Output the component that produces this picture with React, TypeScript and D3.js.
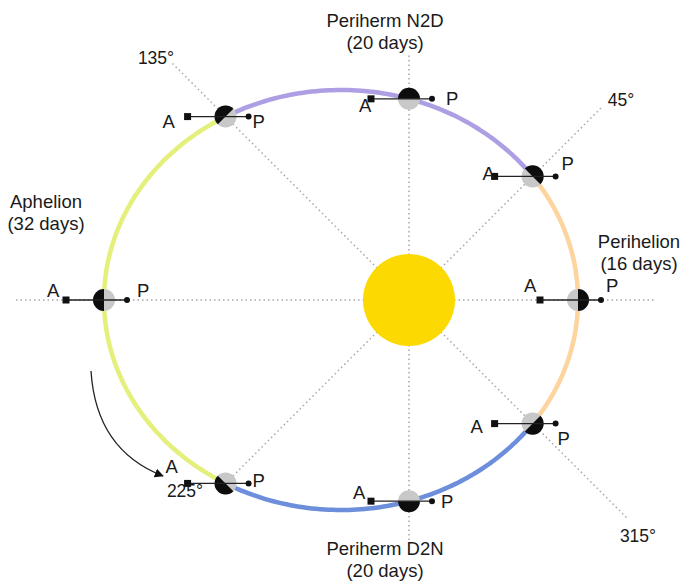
import * as d3 from 'd3'
import { type ReactElement } from 'react'

// positions on the orbit, measured as the angle seen from the sun
const planetAngles = [0, 45, 90, 135, 180, 225, 270, 315]

// orbit arcs between the marked angles
const arcStarts = [315, 45, 135, 225]
const arcEnds = [405, 135, 225, 315]
const arcColors = ['#fdd39e', '#ae9fe4', '#e4ef7c', '#6d8edb']

const angleTickLabels = ['45°', '135°', '225°', '315°']
const phaseNames = ['Perihelion', 'Periherm N2D', 'Aphelion', 'Periherm D2N']
const phaseDays = [16, 20, 32, 20]

const width = 681
const height = 581
const sun = { x: 409, y: 300, r: 46 }
const orbit = { cx: 341, cy: 300, rx: 237, ry: 210 }
const font = '"Liberation Sans", Arial, sans-serif'

// distance from the sun to the orbit along a ray at angle deg
function rayToOrbit(deg: number): number {
  const a = (deg * Math.PI) / 180
  const c = Math.cos(a)
  const s = -Math.sin(a)
  const dx0 = sun.x - orbit.cx
  const dy0 = sun.y - orbit.cy
  const A = (c * c) / orbit.rx ** 2 + (s * s) / orbit.ry ** 2
  const B = 2 * ((dx0 * c) / orbit.rx ** 2 + (dy0 * s) / orbit.ry ** 2)
  const C = (dx0 * dx0) / orbit.rx ** 2 + (dy0 * dy0) / orbit.ry ** 2 - 1
  return (-B + Math.sqrt(B * B - 4 * A * C)) / (2 * A)
}

function polar(deg: number, dist: number): [number, number] {
  const a = (deg * Math.PI) / 180
  return [sun.x + dist * Math.cos(a), sun.y - dist * Math.sin(a)]
}

function orbitPoint(deg: number): [number, number] {
  return polar(deg, rayToOrbit(deg))
}

// how far each dotted guide runs past the sun
const guideEnds: Record<number, number> = {
  0: 246, 45: 273, 90: 245, 135: 337, 180: 394, 225: 256, 270: 240, 315: 308,
}

// A / P label offsets from each planet centre
const apOffsets: Record<number, [number, number, number, number]> = {
  0: [-54, -8, 28, -8],
  45: [-50, 4, 29, -6],
  90: [-50, 13, 37, 6],
  135: [-63, 11, 27, 11],
  180: [-57, -3, 33, -3],
  225: [-60, -10, 27, 4],
  270: [-56, -2, 32, 7],
  315: [-62, 9, 25, 21],
}

const tickLabelPos: [number, number][] = [
  [621, 106],
  [156, 64],
  [185, 497],
  [638, 542],
]

const phaseLabelPos: [number, number][] = [
  [639, 248],
  [385, 27],
  [46, 208],
  [385, 555],
]

const orbitLine = d3
  .line<[number, number]>()
  .x((d) => d[0])
  .y((d) => d[1])
  .curve(d3.curveCatmullRom)

const halfArc = d3.arc<unknown>().innerRadius(0).outerRadius(11)

function Planet({ deg }: { deg: number }): ReactElement {
  const [x, y] = orbitPoint(deg)
  const away = Math.PI / 2 - (deg * Math.PI) / 180
  const off = apOffsets[deg]
  return (
    <g>
      <g transform={`translate(${x},${y})`}>
        <circle r={11} fill="#c8c8c8" />
        <path
          d={halfArc({ startAngle: away - Math.PI / 2, endAngle: away + Math.PI / 2 } as never) ?? ''}
          fill="#0d0d0d"
        />
        <line x1={-38} x2={23} y1={0} y2={0} stroke="#222" strokeWidth={1.4} />
        <rect x={-41.5} y={-3.5} width={7} height={7} fill="#111" />
        <circle cx={23} cy={0} r={3} fill="#111" />
      </g>
      <text x={x + off[0]} y={y + off[1]} fontFamily={font} fontSize={18.5} fill="#1a1a1a">
        A
      </text>
      <text x={x + off[2]} y={y + off[3]} fontFamily={font} fontSize={18.5} fill="#1a1a1a">
        P
      </text>
    </g>
  )
}

export default function App(): ReactElement {
  const arcs = arcStarts.map((start, i) => {
    const pts = d3.range(start, arcEnds[i] + 0.5, 1).map((deg) => orbitPoint(deg))
    return { d: orbitLine(pts) ?? '', color: arcColors[i] }
  })

  return (
    <svg
      width={width}
      height={height}
      style={{ position: 'absolute', left: 0, top: 0, background: '#fff' }}
    >
      <defs>
        <marker id="head" viewBox="0 0 10 10" refX={9} refY={5} markerWidth={7} markerHeight={7} orient="auto">
          <path d="M0,0 L10,5 L0,10 z" fill="#111" />
        </marker>
      </defs>

      {planetAngles.map((deg) => {
        const [x2, y2] = polar(deg, guideEnds[deg])
        return (
          <line
            key={`g${deg}`}
            x1={sun.x}
            y1={sun.y}
            x2={x2}
            y2={y2}
            stroke="#a8a8a8"
            strokeWidth={1.5}
            strokeDasharray="1.5,3"
          />
        )
      })}

      {arcs.map((a, i) => (
        <path key={`o${i}`} d={a.d} fill="none" stroke={a.color} strokeWidth={4.5} />
      ))}

      <circle cx={sun.x} cy={sun.y} r={sun.r} fill="#fcd900" />

      {planetAngles.map((deg) => (
        <Planet key={`p${deg}`} deg={deg} />
      ))}

      <path
        d="M91,371 Q96,450 163,476"
        fill="none"
        stroke="#222"
        strokeWidth={1.3}
        markerEnd="url(#head)"
      />

      {angleTickLabels.map((t, i) => (
        <text
          key={t}
          x={tickLabelPos[i][0]}
          y={tickLabelPos[i][1]}
          textAnchor="middle"
          fontFamily={font}
          fontSize={17.5}
          fill="#1a1a1a"
        >
          {t}
        </text>
      ))}

      {phaseNames.map((name, i) => (
        <text
          key={name}
          x={phaseLabelPos[i][0]}
          y={phaseLabelPos[i][1]}
          textAnchor="middle"
          fontFamily={font}
          fontSize={18.5}
          fill="#1a1a1a"
        >
          <tspan x={phaseLabelPos[i][0]}>{name}</tspan>
          <tspan x={phaseLabelPos[i][0]} dy={21.5}>
            ({phaseDays[i]} days)
          </tspan>
        </text>
      ))}
    </svg>
  )
}
